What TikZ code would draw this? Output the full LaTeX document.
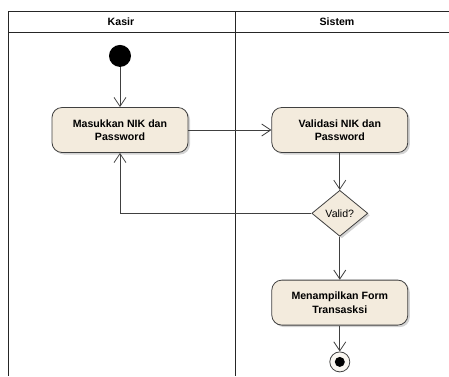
\documentclass[tikz,border=0pt]{standalone}
\usepackage{fontspec}
\setsansfont{Liberation Sans}
\usetikzlibrary{positioning,shapes.geometric,arrows.meta,shadows}
\definecolor{actfill}{HTML}{F3EBDD}
\definecolor{linegray}{HTML}{404040}

\begin{document}
\begin{tikzpicture}[
        x=1pt, y=-1pt,
        font=\sffamily\bfseries\fontsize{10.6}{13.5}\selectfont,
        lane/.style = {draw=black!85, line width=1pt},
        act/.style = {
            draw=linegray, line width=0.8pt, fill=actfill,
            rounded corners=10pt, align=center,
            minimum width=136pt, minimum height=45pt,
            drop shadow={shadow xshift=2pt,shadow yshift=-2pt,opacity=.35}},
        dec/.style = {
            diamond, draw=linegray, line width=0.8pt, fill=actfill,
            inner sep=0pt, aspect=1.2, font=\sffamily\fontsize{10.6}{13.5}\selectfont,
            minimum width=56pt, minimum height=46pt,
            drop shadow={shadow xshift=2pt,shadow yshift=-2pt,opacity=.35}},
        start/.style = {circle, fill=black, minimum size=22pt, inner sep=0pt},
        stop/.style = {circle, draw=linegray, line width=0.8pt, fill=actfill!40,
            minimum size=20pt, inner sep=0pt},
        arr/.style = {-{Straight Barb[length=9pt,width=12pt]}, draw=linegray, line width=0.8pt},
]
        % swimlanes
        \useasboundingbox (0,0) rectangle (449,376);
        \draw[lane] (449,11) -- (8,11) -- (8,376);
        \draw[lane] (8,32) -- (449,32);
        \draw[lane] (235,11) -- (235,376);
        \node (kasir) at (121,21.5) {Kasir};
        \node (sistem) at (337,21.5) {Sistem};

        \node[act] (login) at (120,130) {Masukkan NIK dan\\Password};
        \node[start] (mulai) [above=40pt of login] {};
        \node[act] (valid) [right=83pt of login] {Validasi NIK dan\\Password};
        \node[dec] (cek) [below=37pt of valid] {Valid?};
        \node[act] (form) [below=43pt of cek] {Menampilkan Form\\Transasksi};
        \node[stop] (selesai) [below=26pt of form] {};
        \fill (selesai.center) circle [radius=5pt];

        \draw [arr] (mulai) -- (login);
        \draw [arr] (login) -- (valid);
        \draw [arr] (valid) -- (cek);
        \draw [arr] (cek) -- (form);
        \draw [arr] (form) -- (selesai);
        \draw [arr] (cek.west) -| (login.south);
\end{tikzpicture}
\end{document}
